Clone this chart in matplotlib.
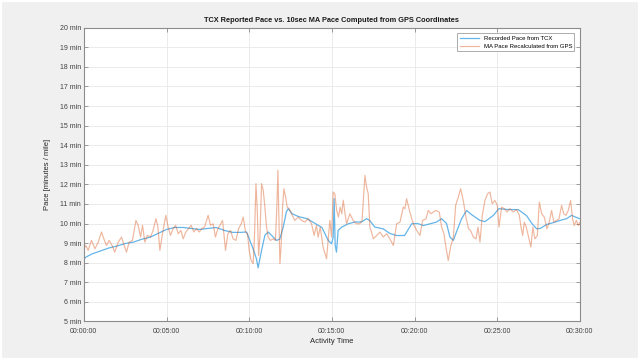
import matplotlib
matplotlib.use('Agg')
import matplotlib.pyplot as plt
from matplotlib.patches import Rectangle

# Recorded pace from the TCX file (time in minutes, pace in min/mile)
tcx_t_min = [0.00, 0.02, 0.15, 0.5, 1.0, 1.5, 2.0, 2.5, 3.0, 3.5, 4.0, 4.5, 5.0, 5.5, 6.0, 6.5,
             7.0, 7.5, 8.0, 8.5, 9.0, 9.5, 9.84, 10.04, 10.24, 10.44, 10.54, 10.75, 10.95, 11.15,
             11.35, 11.65, 11.85, 12.06, 12.25, 12.36, 12.6, 13.0, 13.5, 14.0, 14.4, 14.78, 14.98,
             15.08, 15.14, 15.2, 15.28, 15.38, 15.6, 16.0, 16.4, 16.8, 17.1, 17.3, 17.6, 18.1, 18.5,
             18.9, 19.4, 19.83, 20.2, 20.53, 21.0, 21.34, 21.64, 21.94, 22.14, 22.35, 22.55, 22.85,
             23.15, 23.46, 23.96, 24.26, 24.77, 25.1, 25.6, 26.28, 26.78, 27.1, 27.39, 27.6, 27.99,
             28.4, 28.8, 29.2, 29.5, 29.97]
tcx_pace = [10.0, 8.2, 8.3, 8.45, 8.6, 8.75, 8.85, 8.98, 9.05, 9.2, 9.3, 9.5, 9.7, 9.8, 9.8, 9.75,
            9.7, 9.75, 9.8, 9.65, 9.55, 9.55, 9.57, 9.14, 8.71, 8.2, 7.74, 8.63, 9.4, 9.57,
            9.4, 9.14, 9.2, 9.82, 10.6, 10.76, 10.5, 10.35, 10.25, 10.0, 9.8, 9.14, 8.97,
            9.3, 11.27, 8.9, 8.54, 9.65, 9.82, 9.99, 10.08, 10.08, 10.25, 10.15, 9.82, 9.73, 9.5,
            9.39, 9.39, 9.99, 10.0, 9.9, 10.0, 10.08, 10.25, 10.0, 9.31, 9.14, 9.6, 10.25,
            10.67, 10.45, 10.16, 10.1, 10.42, 10.76, 10.72, 10.71, 10.4, 10.0, 9.73, 9.75, 9.95,
            10.05, 10.16, 10.25, 10.42, 10.25]

# 10 s moving-average pace recalculated from GPS coordinates
gps_t_min = [0.00, 0.12, 0.26, 0.46, 0.67, 0.87, 1.07, 1.21, 1.37, 1.53, 1.71, 1.87, 2.08, 2.28,
             2.44, 2.58, 2.74, 2.94, 3.15, 3.29, 3.43, 3.55, 3.69, 3.85, 4.03, 4.19, 4.36, 4.48,
             4.60, 4.74, 4.96, 5.10, 5.24, 5.40, 5.55, 5.71, 5.87, 6.01, 6.17, 6.33, 6.49, 6.65,
             6.82, 6.98, 7.14, 7.30, 7.52, 7.66, 7.82, 7.96, 8.11, 8.23, 8.39, 8.57, 8.71, 8.87,
             9.03, 9.20, 9.36, 9.52, 9.64, 9.78, 9.90, 10.00, 10.12, 10.24, 10.32, 10.41, 10.49,
             10.57, 10.65, 10.75, 10.85, 10.95, 11.05, 11.15, 11.29, 11.45, 11.59, 11.68, 11.74,
             11.80, 11.86, 11.94, 12.02, 12.10, 12.20, 12.30, 12.42, 12.56, 12.76, 12.97, 13.17,
             13.37, 13.57, 13.77, 13.93, 14.07, 14.17, 14.30, 14.47, 14.68, 14.88, 14.98, 15.08,
             15.18, 15.29, 15.40, 15.50, 15.60, 15.69, 15.80, 15.89, 16.09, 16.29, 16.49, 16.69,
             16.83, 17.00, 17.10, 17.20, 17.30, 17.40, 17.51, 17.71, 17.91, 18.11, 18.31, 18.51,
             18.72, 18.92, 19.12, 19.32, 19.42, 19.52, 19.72, 19.93, 20.13, 20.33, 20.49, 20.69,
             20.83, 21.00, 21.15, 21.30, 21.50, 21.64, 21.78, 21.90, 22.04, 22.18, 22.35, 22.49,
             22.65, 22.79, 22.95, 23.11, 23.27, 23.39, 23.56, 23.72, 23.84, 23.96, 24.10, 24.26,
             24.42, 24.56, 24.70, 24.86, 25.01, 25.11, 25.27, 25.43, 25.59, 25.77, 25.97, 26.18,
             26.34, 26.44, 26.54, 26.64, 26.76, 26.88, 27.04, 27.16, 27.28, 27.43, 27.55, 27.69,
             27.85, 28.01, 28.15, 28.29, 28.43, 28.60, 28.74, 28.90, 29.02, 29.16, 29.30, 29.44,
             29.56, 29.66, 29.79, 29.91, 30.00]
gps_pace = [8.71, 8.88, 8.63, 9.14, 8.71, 9.05, 9.57, 9.22, 8.88, 9.14, 8.88, 8.54, 9.05, 9.31,
            8.88, 8.54, 9.05, 9.14, 10.16, 9.91, 9.31, 9.91, 9.05, 9.40, 9.31, 9.65, 10.25, 9.82,
            8.63, 9.40, 10.42, 9.82, 9.40, 9.74, 9.91, 9.48, 9.65, 9.22, 9.57, 9.74, 9.91, 9.57,
            9.74, 9.57, 9.74, 9.82, 10.42, 9.91, 9.99, 9.31, 9.74, 9.91, 10.16, 8.63, 9.48, 9.65,
            9.22, 9.14, 9.74, 9.99, 10.33, 9.57, 9.48, 8.63, 8.12, 7.95, 9.31, 12.04, 10.67,
            8.37, 9.31, 12.04, 11.70, 10.84, 9.82, 9.31, 9.14, 9.22, 9.14, 11.01, 12.72,
            10.16, 7.95, 8.97, 10.84, 11.78, 11.36, 10.84, 10.76, 10.50, 10.16, 10.33, 10.16,
            10.08, 10.25, 9.99, 9.40, 9.91, 9.31, 9.82, 8.80, 8.20, 10.16, 9.31, 11.61,
            11.53, 10.67, 10.33, 10.84, 10.50, 11.19, 10.50, 9.99, 10.50, 10.16, 9.99, 9.99,
            10.16, 12.46, 11.87, 11.53, 9.82, 9.57, 9.22, 9.39, 9.56, 9.31, 9.48, 9.22,
            8.88, 9.99, 10.07, 10.84, 10.76, 11.27, 10.58, 9.99, 9.65, 9.39, 10.16, 10.24,
            10.67, 10.50, 10.60, 10.67, 10.58, 9.82, 9.48, 8.80, 8.11, 8.80, 9.31, 10.93,
            11.35, 11.78, 11.18, 10.33, 9.73, 9.65, 9.31, 9.22, 9.82, 9.05, 10.42, 11.18,
            11.52, 11.61, 11.01, 11.18, 10.93, 9.82, 10.84, 10.76, 10.59, 10.76, 10.59, 10.71,
            10.42, 9.82, 9.39, 10.07, 9.82, 9.39, 8.80, 9.82, 9.22, 9.39, 11.10, 10.50,
            10.33, 9.73, 10.07, 10.67, 10.07, 10.16, 10.25, 10.93, 10.50, 10.42, 10.67, 11.18,
            10.25, 9.90, 10.16, 9.90, 10.07]

y_ticks = list(range(5, 21))
y_tick_labels = [f'{v} min' for v in y_ticks]
x_ticks_min = [0, 5, 10, 15, 20, 25, 30]
x_tick_labels = ['00:00:00', '00:05:00', '00:10:00', '00:15:00', '00:20:00', '00:25:00', '00:30:00']

plt.rcParams['font.family'] = ['Liberation Sans', 'DejaVu Sans']

fig = plt.figure(figsize=(6.4, 3.6), dpi=100, facecolor='#f0f0f0')
fig.patches.append(Rectangle((0, 0), 1, 1, transform=fig.transFigure, fill=False,
                             edgecolor='white', lw=3))
ax = fig.add_axes([0.131, 0.107, 0.775, 0.816])

ax.plot([t * 60 for t in tcx_t_min], tcx_pace, color='#4aa8e4', alpha=0.85, lw=0.9,
        label='Recorded Pace from TCX')
ax.plot([t * 60 for t in gps_t_min], gps_pace, color='#D95319', alpha=0.42, lw=0.85,
        label='MA Pace Recalculated from GPS')

ax.set_xlim(0, 1800)
ax.set_ylim(5, 20)
ax.set_yticks(y_ticks)
ax.set_yticklabels(y_tick_labels)
ax.set_xticks([m * 60 for m in x_ticks_min])
ax.set_xticklabels(x_tick_labels)

ax.grid(True, color='#e8e8e8', lw=0.6)
ax.set_axisbelow(True)
ax.tick_params(direction='in', length=3, width=0.6, top=True, right=True,
               labelsize=5, color='#8c8c8c', labelcolor='#404040')
ax.tick_params(axis='y', pad=2)
ax.tick_params(axis='x', pad=5)
for s in ax.spines.values():
    s.set_color('#8c8c8c')
    s.set_linewidth(0.8)

ax.set_title('TCX Reported Pace vs. 10sec MA Pace Computed from GPS Coordinates',
             fontsize=5.3, fontweight='bold', pad=4, color='#1a1a1a')
ax.set_xlabel('Activity Time', fontsize=5.5, labelpad=2, color='#262626')
ax.set_ylabel('Pace [minutes / mile]', fontsize=5.5, labelpad=6, color='#262626')

leg = ax.legend(loc='upper right', fontsize=4.3, fancybox=False, framealpha=1,
                edgecolor='#a0a0a0', handlelength=3.2, borderaxespad=0.9)
leg.get_frame().set_linewidth(0.6)

fig.savefig('out.png', dpi=100, facecolor=fig.get_facecolor())
